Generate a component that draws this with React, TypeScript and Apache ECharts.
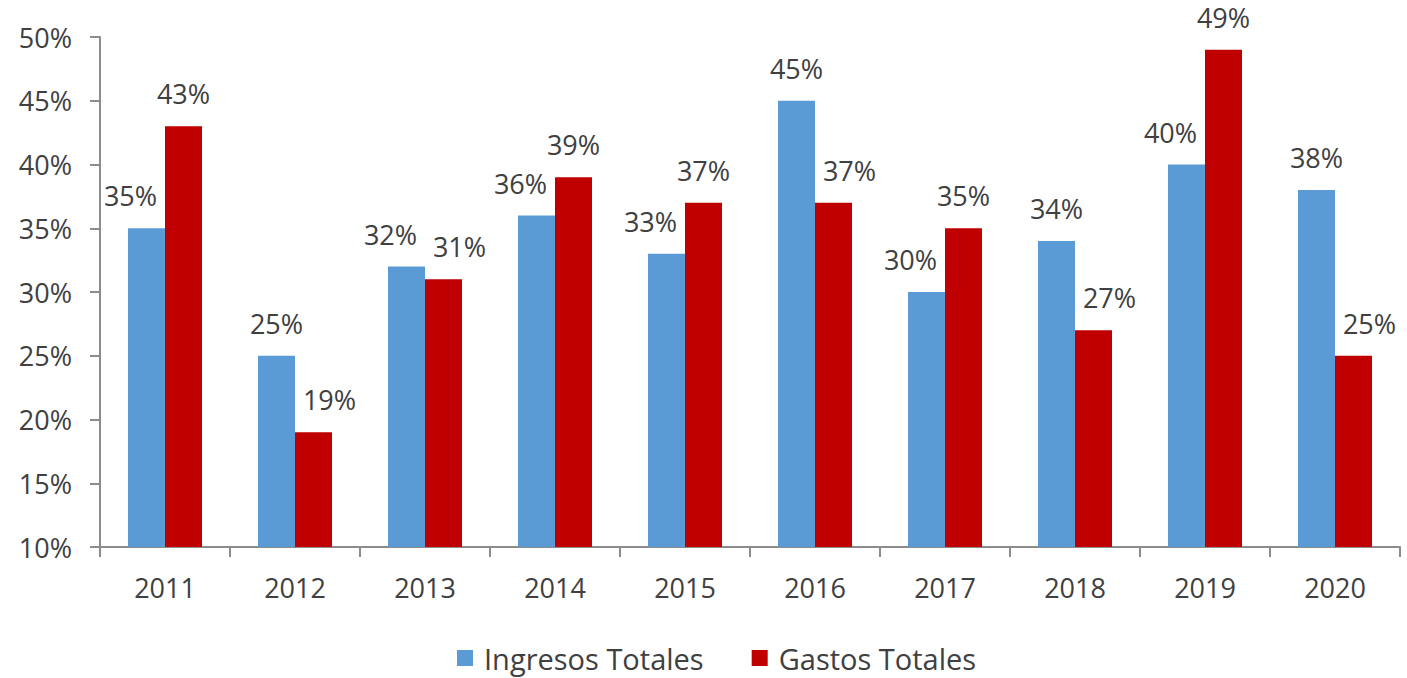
import React, { useEffect, useRef } from "react";
import * as echarts from "echarts";

const years = ["2011", "2012", "2013", "2014", "2015", "2016", "2017", "2018", "2019", "2020"];
const ingresosTotales = [35, 25, 32, 36, 33, 45, 30, 34, 40, 38];
const gastosTotales = [43, 19, 31, 39, 37, 37, 35, 27, 49, 25];
const seriesNames = ["Ingresos Totales", "Gastos Totales"];
const yTicks = { min: 10, max: 50, interval: 5 };

const FONT = "Open Sans";
const TEXT = "#404040";
const AXIS = "#8c8c8c";

export default function App() {
  const ref = useRef<HTMLDivElement>(null);
  useEffect(() => {
    if (!ref.current) return;
    const chart = echarts.init(ref.current, null, { renderer: "svg" });
    const shift = 16;
    const blueData = ingresosTotales.map((v, i) => ({
      value: v,
      label: { offset: [gastosTotales[i] >= v - 1 ? -shift : 0, 0] },
    }));
    const redData = gastosTotales.map((v, i) => ({
      value: v,
      label: { offset: [ingresosTotales[i] >= v - 1 ? shift : 0, 0] },
    }));
    const labelStyle = {
      show: true,
      position: "top",
      distance: 19,
      fontFamily: FONT,
      fontSize: 27,
      color: TEXT,
      formatter: (p: any) => p.value + "%",
    };
    chart.setOption({
      animation: false,
      grid: { left: 100, right: 7, top: 37, bottom: 131, containLabel: false },
      legend: {
        data: seriesNames,
        left: 452,
        top: 637,
        itemWidth: 16,
        itemHeight: 16,
        itemGap: 48,
        icon: "rect",
        textStyle: {
          fontFamily: FONT,
          fontSize: 29,
          lineHeight: 32,
          color: TEXT,
          padding: [0, 0, 0, 6],
        },
      },
      xAxis: {
        type: "category",
        data: years,
        axisLine: { lineStyle: { color: AXIS, width: 2 } },
        axisTick: { show: true, length: 10, alignWithLabel: false, lineStyle: { color: AXIS, width: 2 } },
        axisLabel: { fontFamily: FONT, fontSize: 27, color: TEXT, margin: 27 },
        splitLine: { show: false },
      },
      yAxis: {
        type: "value",
        min: yTicks.min,
        max: yTicks.max,
        interval: yTicks.interval,
        axisLine: { show: true, lineStyle: { color: AXIS, width: 2 } },
        axisTick: { show: true, length: 10, lineStyle: { color: AXIS, width: 2 } },
        axisLabel: {
          fontFamily: FONT,
          fontSize: 27,
          color: TEXT,
          margin: 28,
          formatter: (v: number) => v + "%",
        },
        splitLine: { show: false },
      },
      series: [
        {
          name: seriesNames[0],
          type: "bar",
          data: blueData,
          barWidth: 37,
          barGap: "0%",
          itemStyle: { color: "#5B9BD5" },
          label: labelStyle,
        },
        {
          name: seriesNames[1],
          type: "bar",
          data: redData,
          barWidth: 37,
          barGap: "0%",
          itemStyle: { color: "#C00000" },
          label: labelStyle,
        },
      ],
    });
    return () => chart.dispose();
  }, []);
  return <div ref={ref} style={{ width: 1407, height: 678, position: "absolute", left: 0, top: 0 }} />;
}
